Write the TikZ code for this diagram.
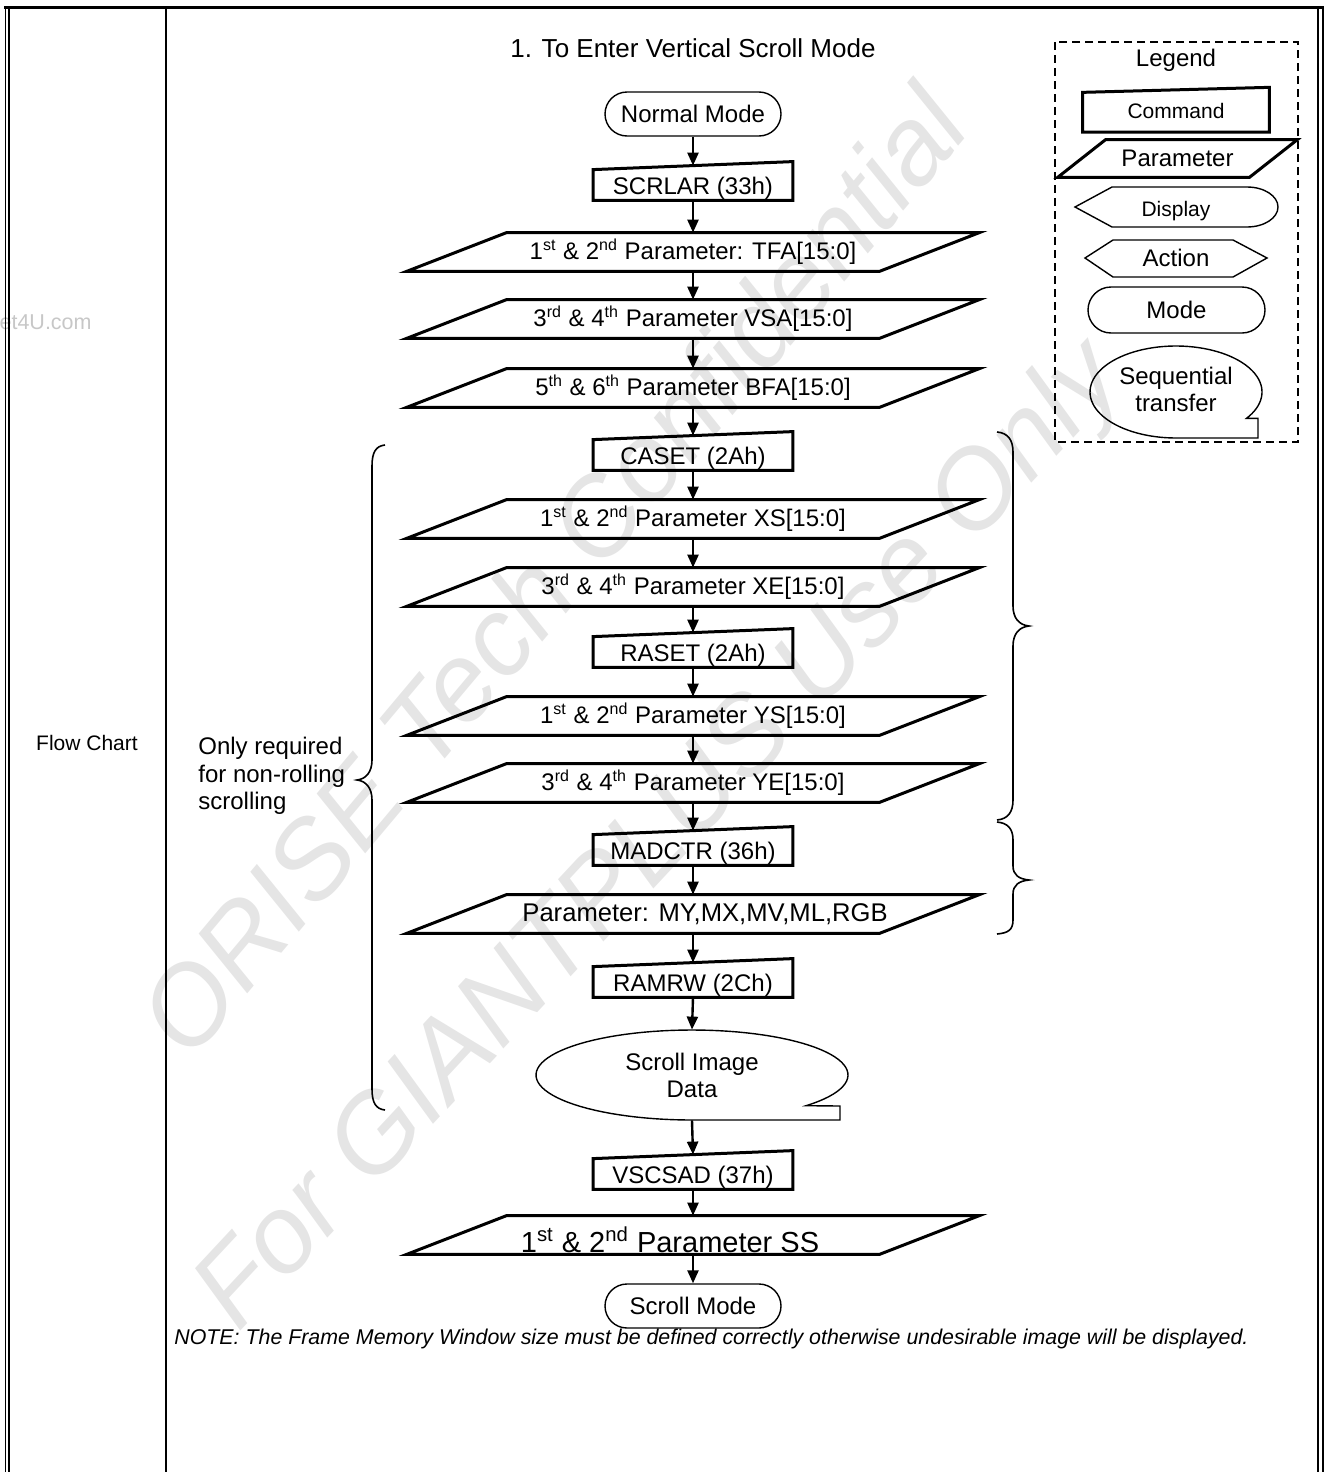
\documentclass[tikz,border=0pt]{standalone}
\usepackage{fontspec}
\setmainfont{Liberation Sans}
\usepackage{tikz}
\usetikzlibrary{arrows.meta,shapes.misc,shapes.geometric}

\newcommand\lbl{\fontsize{12}{13.5}\selectfont}
\newcommand\smalllbl{\fontsize{10.5}{12}\selectfont}

\tikzset{
  shape line/.style={line width=1.5pt},
  thin line/.style={line width=0.7pt},
  flow/.style={line width=1.2pt, -{Triangle[length=6.5pt,width=5.5pt]}},
  param/.style={rectangle, inner sep=0pt, minimum width=286pt, minimum height=19pt, font=\lbl},
  command/.style={rectangle, inner sep=0pt, minimum width=99.5pt, minimum height=17pt, text height=12pt, text depth=1pt, font=\lbl},
  modebox/.style={rounded rectangle, draw, thin line, inner sep=0pt, minimum width=88pt, minimum height=22pt, font=\lbl},
  seqbox/.style={ellipse, inner sep=0pt, align=center, font=\lbl},
  watermark/.style={text=black!10, font=\fontsize{55}{60}\selectfont\itshape}
}

\begin{document}
\begin{tikzpicture}[x=0.5pt, y=-0.5pt]
\useasboundingbox (0,0) rectangle (1327,1472);

% watermarks
\node[watermark, rotate=50] (wmA) at (552,570) {ORISE Tech Confidential};
\node[watermark, rotate=47] (wmB) at (662,838) {For GIANTPLUS Use Only};
\node[anchor=east, inner sep=0pt, text=black!22, font=\fontsize{10.75}{12}\selectfont] (site) at (92,322) {et4U.com};

% frame
\draw[line width=1.75pt] (4,7.5) -- (1324,7.5);
\draw[line width=0.6pt] (5.7,6) -- (5.7,1472);
\draw[line width=1.2pt] (9,9) -- (9,1472);
\draw[line width=1pt] (165.7,9) -- (165.7,1472);
\draw[line width=1.2pt] (1318,9) -- (1318,1472);
\draw[line width=0.6pt] (1323,6) -- (1323,1472);

\node[font=\fontsize{10.5}{12}\selectfont] (fchart) at (87,743) {Flow Chart};
\node[font=\fontsize{13}{15}\selectfont] (title) at (693,48) {1. To Enter Vertical Scroll Mode};

% flow
\node[modebox] (normal) at (693,114) {Normal Mode};
\node[command] (scrlar) at (693,183) {SCRLAR (33h)};
\node[param] (tfa) at (693,252) {1\textsuperscript{st} \& 2\textsuperscript{nd} Parameter: TFA[15:0]};
\node[param] (vsa) at (693,319) {3\textsuperscript{rd} \& 4\textsuperscript{th} Parameter VSA[15:0]};
\node[param] (bfa) at (693,388) {5\textsuperscript{th} \& 6\textsuperscript{th} Parameter BFA[15:0]};
\node[command] (caset) at (693,453) {CASET (2Ah)};
\node[param] (xs) at (693,519) {1\textsuperscript{st} \& 2\textsuperscript{nd} Parameter XS[15:0]};
\node[param] (xe) at (693,587) {3\textsuperscript{rd} \& 4\textsuperscript{th} Parameter XE[15:0]};
\node[command] (raset) at (693,650) {RASET (2Ah)};
\node[param] (ys) at (693,716) {1\textsuperscript{st} \& 2\textsuperscript{nd} Parameter YS[15:0]};
\node[param] (ye) at (693,783) {3\textsuperscript{rd} \& 4\textsuperscript{th} Parameter YE[15:0]};
\node[command] (madctr) at (693,848) {MADCTR (36h)};
\node[param, font=\fontsize{12.8}{14}\selectfont] (mpar) at (693,914) {\hspace*{12pt}Parameter: MY,MX,MV,ML,RGB};
\node[command] (ramrw) at (693,980) {RAMRW (2Ch)};
\node[seqbox, minimum width=156pt, minimum height=45pt] (scroll) at (692,1075) {Scroll Image\\Data};
\node[command] (vscsad) at (693,1172) {VSCSAD (37h)};
\node[param, font=\fontsize{14.5}{16}\selectfont, text height=18pt, text depth=1pt] (ss) at (693,1235) {\hspace*{-23pt}1\textsuperscript{st} \& 2\textsuperscript{nd} Parameter SS};
\node[modebox] (smode) at (693,1306) {Scroll Mode};

\foreach \p in {tfa,vsa,bfa,xs,xe,ys,ye,mpar,ss}
  \draw[shape line] (\p.south west) -- ([xshift=50pt]\p.north west) -- (\p.north east) -- ([xshift=-50pt]\p.south east) -- cycle;
\foreach \c in {scrlar,caset,raset,madctr,ramrw,vscsad}
  \draw[shape line] (\c.south west) -- ([yshift=-2pt]\c.north west) -- ([yshift=2pt]\c.north east) -- (\c.south east) -- cycle;
\draw[thin line] plot[domain=90:403, samples=90] ({692+156*cos(\x)}, {1075+45*sin(\x)}) -- (840,1106) -- (840,1120) -- cycle;

\foreach \a/\b in {normal/scrlar, scrlar/tfa, tfa/vsa, vsa/bfa, bfa/caset, caset/xs, xs/xe, xe/raset, raset/ys, ys/ye, ye/madctr, madctr/mpar, mpar/ramrw, ramrw/scroll, scroll/vscsad, vscsad/ss, ss/smode}
  \draw[flow] (\a.south) -- (\b.north);

% braces
\draw[line width=0.8pt] (385,445) .. controls (376,446) and (372,452) .. (372,466) -- (372,760) .. controls (372,772) and (366,779) .. (357,780) .. controls (366,781) and (372,788) .. (372,800) -- (372,1089) .. controls (372,1103) and (376,1109) .. (385,1110);
\draw[line width=0.8pt] (997,432) .. controls (1008,433) and (1013,440) .. (1013,452) -- (1013,606) .. controls (1013,618) and (1019,625) .. (1029,626) .. controls (1019,627) and (1013,634) .. (1013,646) -- (1013,800) .. controls (1013,812) and (1008,819) .. (997,820);
\draw[line width=0.8pt] (997,822) .. controls (1008,823) and (1013,829) .. (1013,840) -- (1013,866) .. controls (1013,875) and (1019,879) .. (1029,880) .. controls (1019,881) and (1013,885) .. (1013,894) -- (1013,920) .. controls (1013,930) and (1008,933) .. (997,934);
\node[anchor=west, inner sep=0pt, align=left, font=\fontsize{12}{13.75}\selectfont] (onlyreq) at (198,776) {Only required\\for non-rolling\\scrolling};

% legend
\draw[line width=1pt, dash pattern=on 4pt off 2.5pt] (1055,42) rectangle (1298,442);
\node[font=\lbl] (legend) at (1176,60) {Legend};
\node[rectangle, inner sep=0pt, minimum width=93pt, minimum height=20.75pt, font=\smalllbl] (lcmd) at (1176,111) {Command};
\draw[shape line] (lcmd.south west) -- ([yshift=-1.25pt]lcmd.north west) -- ([yshift=1.25pt]lcmd.north east) -- (lcmd.south east) -- cycle;
\node[rectangle, inner sep=0pt, minimum width=119.5pt, minimum height=18.5pt, font=\lbl] (lpar) at (1177.5,158.5) {Parameter};
\draw[shape line] (lpar.south west) -- ([xshift=24pt]lpar.north west) -- (lpar.north east) -- ([xshift=-24pt]lpar.south east) -- cycle;
\node[font=\smalllbl] (ldisp) at (1176,211) {Display};
\draw[thin line] (1075,207) -- (1112,187) -- (1247,187) arc[start angle=90, end angle=-90, x radius=15.5pt, y radius=10pt] -- (1112,227) -- cycle;
\node[font=\lbl] (lact) at (1176,258) {Action};
\draw[thin line] (1085,258) -- (1113,240) -- (1233,240) -- (1267,258) -- (1233,277) -- (1113,277) -- cycle;
\node[modebox, minimum width=88.5pt, minimum height=23pt] (lmode) at (1176.5,310) {Mode};
\node[seqbox, minimum width=86pt, minimum height=46pt] (lseq) at (1176,389) {Sequential\\transfer};
\draw[thin line] plot[domain=90:395, samples=90] ({1176+86*cos(\x)}, {392+46*sin(\x)}) -- (1258,418.4) -- (1258,438) -- cycle;

\node[anchor=west, inner sep=0pt, font=\fontsize{10.68}{12}\selectfont\itshape] (note) at (174,1339) {NOTE: The Frame Memory Window size must be defined correctly otherwise undesirable image will be displayed.};
\end{tikzpicture}
\end{document}
